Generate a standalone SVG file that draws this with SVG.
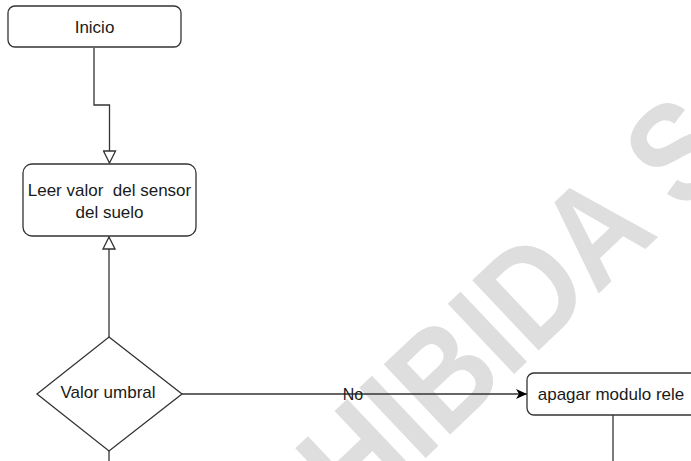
<svg xmlns="http://www.w3.org/2000/svg" width="691" height="461" viewBox="0 0 691 461">
<style>
.box{fill:#fff;stroke:#333;stroke-width:1.3}
.lbl{font-family:"Liberation Sans",Arial,sans-serif;font-size:17px;fill:#1a1a1a;text-anchor:middle;white-space:pre}
.edge{fill:none;stroke:#333;stroke-width:1.3}
.wm{font-family:"Liberation Sans",Arial,sans-serif;font-size:122px;font-weight:bold;fill:#dedede}
</style>
<defs>
<marker id="hollow" viewBox="0 0 14 14" refX="13" refY="7" markerWidth="14" markerHeight="14" markerUnits="userSpaceOnUse" orient="auto">
<path d="M1,1 L13,7 L1,13 Z" fill="#fff" stroke="#333" stroke-width="1.3"/>
</marker>
<marker id="solid" viewBox="0 0 12 10" refX="11" refY="5" markerWidth="12" markerHeight="10" markerUnits="userSpaceOnUse" orient="auto">
<path d="M0,0 L11,5 L0,10 L3,5 Z" fill="#000"/>
</marker>
</defs>
<rect width="691" height="461" fill="#fff"/>
<g id="watermark">
<text class="wm" transform="translate(164,706) rotate(-43.5) scale(1,1.15)">PROHIBIDA S</text>
</g>
<g id="connectors">
<path class="edge" d="M94,48 V105 H109.5 V163" marker-end="url(#hollow)"/>
<path class="edge" d="M109,337 V237" marker-end="url(#hollow)"/>
<path class="edge" d="M109,451 V461"/>
<path class="edge" d="M182,394 H527" stroke="#666" stroke-width="1.6" marker-end="url(#solid)"/>
<path class="edge" d="M613,415 V461"/>
<text class="lbl" x="353" y="400" style="font-size:16px">No</text>
</g>
<g id="inicio">
<rect class="box" x="8" y="6" width="173" height="41" rx="7"/>
<text class="lbl" x="94.5" y="32.5">Inicio</text>
</g>
<g id="leer">
<rect class="box" x="23" y="164" width="173" height="72" rx="9"/>
<text class="lbl" x="109.5" y="196" xml:space="preserve">Leer valor  del sensor</text>
<text class="lbl" x="109.5" y="217.5">del suelo</text>
</g>
<g id="valor">
<polygon class="box" points="109,337 182,394 109,451 37,394"/>
<text class="lbl" x="108" y="398">Valor umbral</text>
</g>
<g id="apagar">
<rect class="box" x="527" y="373" width="173" height="42" rx="7"/>
<text class="lbl" x="611" y="400">apagar modulo rele</text>
</g>
</svg>
